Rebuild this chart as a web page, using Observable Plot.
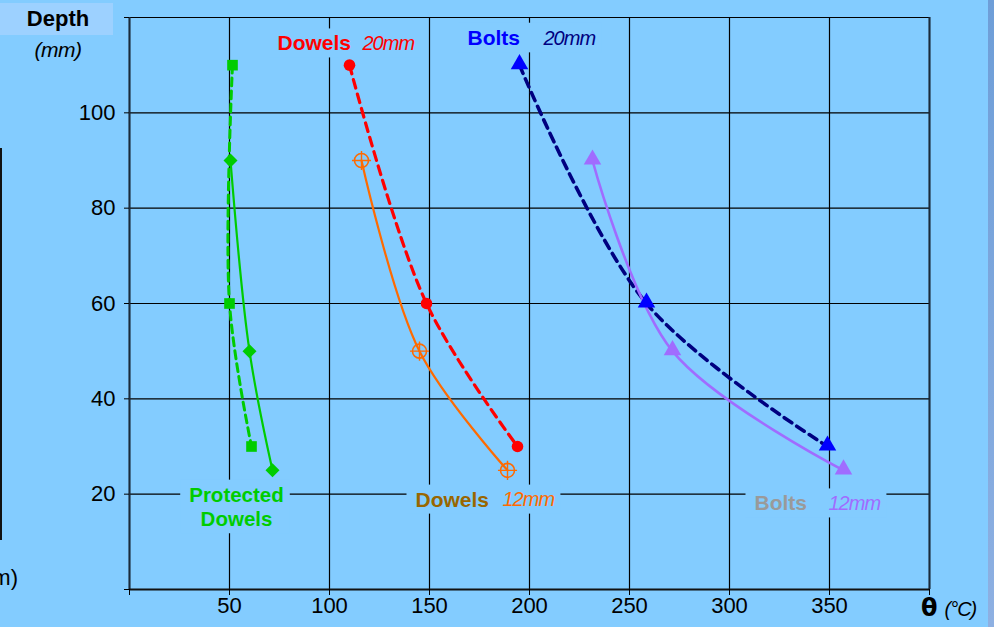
<!DOCTYPE html>
<html>
<head>
<meta charset="utf-8">
<script src="https://cdn.jsdelivr.net/npm/d3@7"></script>
<script src="https://cdn.jsdelivr.net/npm/@observablehq/plot@0.6"></script>
<style>
  html, body { margin: 0; padding: 0; background: #83ccff; }
  #wrap { position: relative; width: 994px; height: 627px; overflow: hidden;
          font-family: "Liberation Sans", Arial, sans-serif; background: #83ccff; }
  #wrap svg { position: absolute; left: 0; top: 0; }
  .depth-box { position: absolute; left: 0; top: 3px; width: 113px; height: 32px; background: #9dd1ff; }
  .depth { position: absolute; left: 0; width: 116px; text-align: center; color: #000; }
  .depth.t { top: 6px; font-weight: bold; font-size: 22px; }
  .depth.u { top: 38px; font-style: italic; font-size: 21px; letter-spacing: -0.5px; }
  .theta { position: absolute; left: 921px; top: 594px; white-space: nowrap; color: #000; }
  .theta b { font-family: "DejaVu Sans", sans-serif; font-size: 24px; font-weight: bold; }
  .theta i { font-size: 20px; margin-left: 7px; letter-spacing: -1px; }
  .edge { position: absolute; left: 988px; top: 0; width: 6px; height: 627px;
          background: linear-gradient(#6e9ed8, #8eb0e2); }
  .prev-line { position: absolute; left: 0; top: 148px; width: 2px; height: 392px; background: #111; }
  .prev-unit { position: absolute; right: 976px; top: 565px; font-size: 22px; white-space: nowrap; }
  .ital text { letter-spacing: -1px; }
</style>
</head>
<body>
<div id="wrap">
  <div class="prev-line"></div>
  <div class="prev-unit">(mm)</div>
  <div class="depth-box"></div>
  <div class="depth t">Depth</div>
  <div class="depth u">(mm)</div>
  <div class="theta"><b>θ</b><i>(°C)</i></div>
  <div class="edge"></div>
</div>
<script>
// Depth levels (mm) at which temperatures were recorded
const depthLarge = [110, 60, 30];   // 20 mm fasteners (dashed curves)
const depthSmall = [90, 50, 25];    // 12 mm fasteners (solid curves)

// Temperatures θ (°C) at those depths
const protectedDashedTemp = [51.5, 50, 61];
const protectedSolidTemp  = [50.5, 60, 71.5];
const dowels20Temp = [110, 148.5, 194];
const dowels12Temp = [116, 145, 189];
const bolts20Temp  = [195, 258.5, 349];
const bolts12Temp  = [231.5, 271.5, 357];

// Axis ticks
const xTicks = [0, 50, 100, 150, 200, 250, 300, 350, 400];
const yTicks = [0, 20, 40, 60, 80, 100, 120];

const rows = (temps, depths) => temps.map((t, i) => ({t, d: depths[i]}));
const protectedDashed = rows(protectedDashedTemp, depthLarge);
const protectedSolid  = rows(protectedSolidTemp, depthSmall);
const dowels20 = rows(dowels20Temp, depthLarge);
const dowels12 = rows(dowels12Temp, depthSmall);
const bolts20  = rows(bolts20Temp, depthLarge);
const bolts12  = rows(bolts12Temp, depthSmall);

const BG = "#83ccff";
const GREEN = "#00cc00", RED = "#ff0000", ORANGE = "#ff6a00",
      NAVY = "#000080", BLUE = "#0000ff", PURPLE = "#a06cff";
const XY = {x: "t", y: "d"};
const curve = "catmull-rom";

const label = (text, x, y, color, italic, group) =>
  Plot.text([text], {x: () => x, y: () => y, text: d => d, fill: color,
    textAnchor: "start", lineAnchor: "middle",
    fontSize: italic ? 20 : 21, fontWeight: italic ? "normal" : "bold",
    fontStyle: italic ? "italic" : "normal",
    className: `lbl ${group}` + (italic ? " ital" : "")});

const chart = Plot.plot({
  width: 994,
  height: 627,
  marginLeft: 129,
  marginRight: 65,
  marginTop: 17,
  marginBottom: 38,
  style: {background: "transparent", fontFamily: "Liberation Sans, Arial, sans-serif", fontSize: "22px", color: "#000"},
  x: {domain: [0, 400], label: null},
  y: {domain: [0, 120], label: null},
  marks: [
    Plot.gridY(yTicks, {stroke: "#000", strokeOpacity: 1, strokeWidth: 1.2}),
    Plot.gridX(xTicks, {stroke: "#000", strokeOpacity: 1, strokeWidth: 1.2}),

    // 20 mm (dashed) and 12 mm (solid) curves
    Plot.line(protectedDashed, {...XY, curve, stroke: GREEN, strokeWidth: 3, strokeDasharray: "8,5"}),
    Plot.line(protectedSolid,  {...XY, curve, stroke: GREEN, strokeWidth: 2.2}),
    Plot.line(dowels20, {...XY, curve, stroke: RED, strokeWidth: 3.2, strokeDasharray: "9,6"}),
    Plot.line(dowels12, {...XY, curve, stroke: ORANGE, strokeWidth: 2.2}),
    Plot.line(bolts20,  {...XY, curve, stroke: NAVY, strokeWidth: 3.6, strokeDasharray: "9,6"}),
    Plot.line(bolts12,  {...XY, curve, stroke: PURPLE, strokeWidth: 2.6}),

    // markers
    Plot.dot(protectedDashed, {...XY, symbol: "square", r: 6, fill: GREEN, stroke: "none"}),
    Plot.dot(protectedSolid,  {...XY, symbol: "diamond2", r: 6.3, fill: GREEN, stroke: "none"}),
    Plot.dot(dowels20, {...XY, symbol: "circle", r: 5.8, fill: RED, stroke: "none"}),
    Plot.dot(dowels12, {...XY, symbol: "circle", r: 7, fill: "none", stroke: ORANGE, strokeWidth: 1.6}),
    Plot.dot(dowels12, {...XY, symbol: "plus", r: 6.2, stroke: ORANGE, strokeWidth: 1.4}),
    Plot.dot(bolts20,  {...XY, symbol: "triangle", r: 6.5, fill: BLUE, stroke: "none", dy: -1}),
    Plot.dot(bolts12,  {...XY, symbol: "triangle", r: 6.5, fill: PURPLE, stroke: "none", dy: -1}),

    // series labels
    label("Dowels", 74, 114.5, RED, false, "g-d20"),
    label("20mm", 116.5, 114.5, RED, true, "g-d20"),
    label("Bolts", 169, 115.7, BLUE, false, "g-b20"),
    label("20mm", 207, 115.5, NAVY, true, "g-b20"),
    Plot.text(["Protected\nDowels"], {x: () => 53.5, y: () => 17.5, text: d => d, fill: GREEN,
      fontSize: 20.5, fontWeight: "bold", lineHeight: 1.2, textAnchor: "middle", lineAnchor: "middle",
      className: "lbl g-pd"}),
    label("Dowels", 143, 18.8, "#996600", false, "g-d12"),
    label("12mm", 186.5, 18.8, ORANGE, true, "g-d12"),
    label("Bolts", 312.5, 18, "#9a9a9a", false, "g-b12"),
    label("12mm", 349.5, 18, PURPLE, true, "g-b12"),

    // frame and axes
    Plot.ruleX([0], {stroke: "#1a2a3a", strokeWidth: 2}),
    Plot.ruleX([400], {stroke: "#1a2a3a", strokeWidth: 2}),
    Plot.ruleY([0], {stroke: "#111", strokeWidth: 2}),
    Plot.axisX({ticks: xTicks, tickSize: 6, tickPadding: 2, label: null,
      tickFormat: d => (d === 0 || d === 400) ? "" : d, fontSize: 22}),
    Plot.axisY({ticks: yTicks, tickSize: 5, tickPadding: 9, label: null,
      tickFormat: d => (d === 0 || d === 120) ? "" : d, fontSize: 22})
  ]
});

document.getElementById("wrap").prepend(chart);

// One opaque box behind each label group so grid lines stop around the text
["g-d20", "g-b20", "g-pd", "g-d12", "g-b12"].forEach(name => {
  const gs = [...chart.querySelectorAll(`g.${name}`)];
  let x0 = Infinity, y0 = Infinity, x1 = -Infinity, y1 = -Infinity;
  gs.forEach(g => {
    const b = g.getBBox();
    x0 = Math.min(x0, b.x); y0 = Math.min(y0, b.y);
    x1 = Math.max(x1, b.x + b.width); y1 = Math.max(y1, b.y + b.height);
  });
  const holder = document.createElementNS("http://www.w3.org/2000/svg", "g");
  const tr = gs[0].getAttribute("transform");
  if (tr) holder.setAttribute("transform", tr);
  const r = document.createElementNS("http://www.w3.org/2000/svg", "rect");
  r.setAttribute("x", x0 - 9);
  r.setAttribute("y", y0 - 3);
  r.setAttribute("width", x1 - x0 + 15);
  r.setAttribute("height", y1 - y0 + 6);
  r.setAttribute("fill", BG);
  holder.appendChild(r);
  gs[0].parentNode.insertBefore(holder, gs[0]);
});
</script>
</body>
</html>
